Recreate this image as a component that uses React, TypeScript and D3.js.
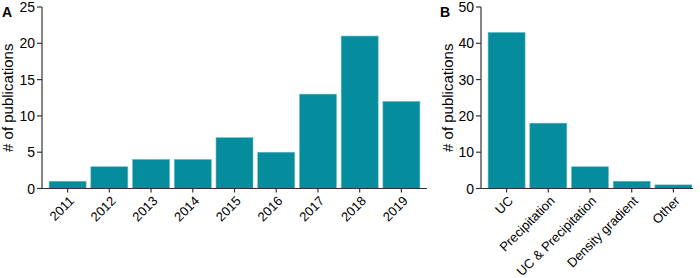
import React from "react";
import * as d3 from "d3";

const years = ["2011", "2012", "2013", "2014", "2015", "2016", "2017", "2018", "2019"];
const yearCounts = [1, 3, 4, 4, 7, 5, 13, 21, 12];
const yTicksA = [0, 5, 10, 15, 20, 25];

const methods = ["UC", "Precipitation", "UC & Precipitation", "Density gradient", "Other"];
const methodCounts = [43, 18, 6, 2, 1];
const yTicksB = [0, 10, 20, 30, 40, 50];

const FILL = "#058d9d";
const FONT = "Liberation Sans, Arial, sans-serif";

type PanelProps = {
  letter: string;
  letterX: number;
  labelX: number;
  cats: string[];
  vals: number[];
  ticks: number[];
  yMax: number;
  x0: number;
  x1: number;
  axisEnd: number;
};

function Panel({ letter, letterX, labelX, cats, vals, ticks, yMax, x0, x1, axisEnd }: PanelProps) {
  const y = d3.scaleLinear().domain([0, yMax]).range([188.5, 7]);
  const x = d3.scaleBand<string>().domain(cats).range([x0, x1]).paddingInner(0.113).paddingOuter(0.17);
  const bw = x.bandwidth();
  return (
    <g fontFamily={FONT} fill="#000">
      <text x={letterX} y={17} fontWeight="bold" fontSize={14}>{letter}</text>
      <text
        transform={`translate(${labelX},${(y(0) + y(yMax)) / 2}) rotate(-90)`}
        textAnchor="middle"
        fontSize={15}
      >
        # of publications
      </text>
      {cats.map((c, i) => (
        <rect
          key={c}
          x={x(c)}
          y={y(vals[i])}
          width={bw}
          height={y(0) - y(vals[i])}
          fill={FILL}
          stroke="#6cbcc6"
          strokeWidth={0.6}
        />
      ))}
      <line x1={x0} x2={x0} y1={y(yMax)} y2={y(0)} stroke="#333" strokeWidth={1.2} />
      <line x1={x0} x2={axisEnd} y1={y(0)} y2={y(0)} stroke="#333" strokeWidth={1.2} />
      {ticks.map((t) => (
        <g key={t}>
          <line x1={x0 - 5} x2={x0} y1={y(t)} y2={y(t)} stroke="#333" strokeWidth={1.2} />
          <text x={x0 - 7} y={y(t)} dy="0.36em" textAnchor="end" fontSize={14}>{t}</text>
        </g>
      ))}
      {cats.map((c) => {
        const cx = (x(c) as number) + bw / 2;
        return (
          <g key={c}>
            <line x1={cx} x2={cx} y1={y(0)} y2={y(0) + 4} stroke="#333" strokeWidth={1.2} />
            <text
              transform={`translate(${cx + 4},${y(0) + 10}) rotate(-45)`}
              textAnchor="end"
              dy="0.35em"
              fontSize={13}
            >
              {c}
            </text>
          </g>
        );
      })}
    </g>
  );
}

export default function App() {
  return (
    <svg width={700} height={278} style={{ position: "absolute", left: 0, top: 0 }}>
      <rect width={700} height={278} fill="#fff" />
      <Panel
        letter="A"
        letterX={2}
        labelX={13}
        cats={years}
        vals={yearCounts}
        ticks={yTicksA}
        yMax={25}
        x0={42}
        x1={427}
        axisEnd={427}
      />
      <Panel
        letter="B"
        letterX={440}
        labelX={453}
        cats={methods}
        vals={methodCounts}
        ticks={yTicksB}
        yMax={50}
        x0={481}
        x1={699}
        axisEnd={693}
      />
    </svg>
  );
}
